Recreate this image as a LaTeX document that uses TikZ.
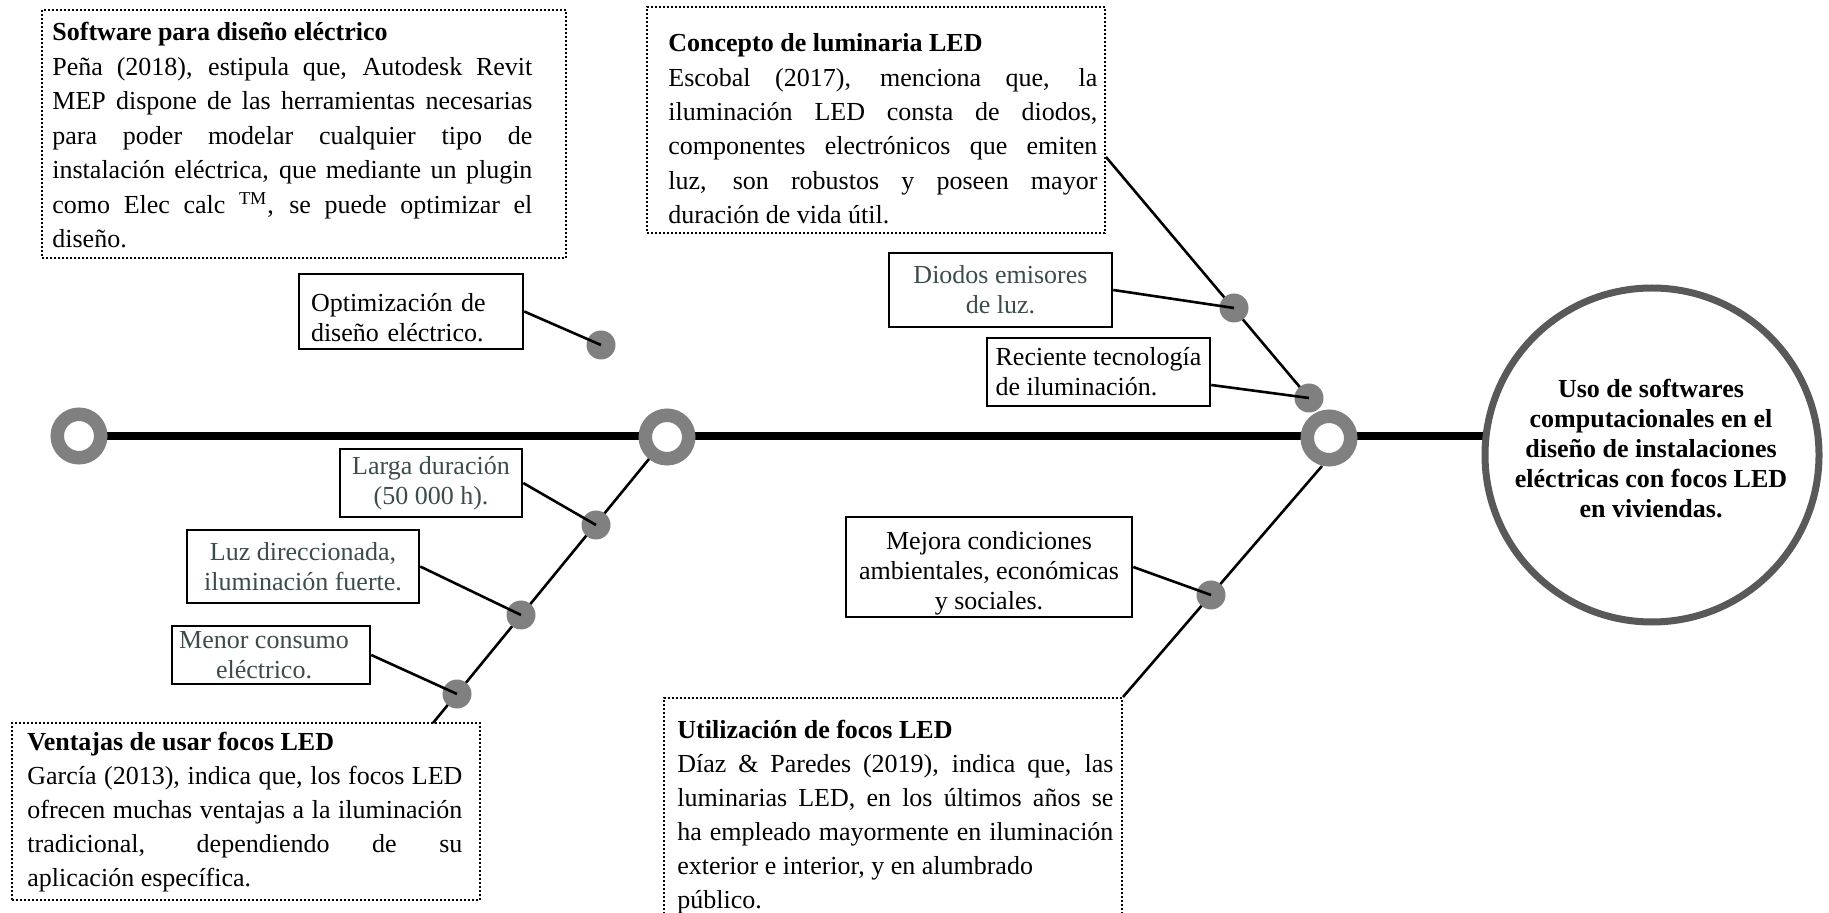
\documentclass[tikz,border=0pt]{standalone}
\usepackage{fontspec}
\setmainfont{Liberation Serif}
\usetikzlibrary{calc}
\pgfdeclarelayer{background}
\pgfsetlayers{background,main}
\definecolor{ringgray}{HTML}{808080}
\definecolor{bigborder}{HTML}{595959}
\definecolor{slate}{HTML}{3C4B4B}
\newcommand{\mybody}[1]{\fontsize{13pt}{#1}\selectfont\tolerance=10000\hyphenpenalty=10000\exhyphenpenalty=10000\relax}
\begin{document}
\begin{tikzpicture}[x=0.5pt,y=-0.5pt,
  dotbox/.style={draw, line width=1pt, dash pattern=on 1pt off 1pt, inner sep=0pt},
  solidbox/.style={draw, line width=1.25pt, inner sep=0pt, font=\fontsize{13pt}{15pt}\selectfont, align=center},
  ring/.style={circle, draw=ringgray, line width=6.75pt, fill=white, minimum size=21.75pt, inner sep=0pt},
  dot/.style={circle, fill=ringgray, minimum size=14.5pt, inner sep=0pt},
  bone/.style={line width=1.3pt},
  conn/.style={line width=1.3pt},
  spine/.style={line width=4.25pt},
  bodytext/.style={anchor=base west, inner sep=0pt}
]
\useasboundingbox (0,0) rectangle (1829,913);
\clip (0,0) rectangle (1829,913);

% dotted boxes
\node[dotbox, minimum width=262pt, minimum height=124pt] (sw) at (304,134) {};
\node[dotbox, minimum width=229pt, minimum height=113pt] (conc) at (876,120) {};
\node[dotbox, minimum width=234pt, minimum height=88.5pt] (vent) at (246,811.5) {};
\node[dotbox, minimum width=229pt, minimum height=121pt] (util) at (893,819) {};

\node[bodytext] (swt) at (52,41) {\parbox[t]{240pt}{\mybody{17.25pt}\textbf{Software para diseño eléctrico}\newline
Peña (2018), estipula que, Autodesk Revit\linebreak
MEP dispone de las herramientas necesarias\linebreak
para poder modelar cualquier tipo de\linebreak
instalación eléctrica, que mediante un plugin\linebreak
como Elec calc \textsuperscript{TM}, se puede optimizar el\linebreak
diseño.}};

\node[bodytext] (conct) at (668,52) {\parbox[t]{214.5pt}{\mybody{17.15pt}\textbf{Concepto de luminaria LED}\newline
Escobal (2017), menciona que, la\linebreak
iluminación LED consta de diodos,\linebreak
componentes electrónicos que emiten\linebreak
luz, son robustos y poseen mayor\linebreak
duración de vida útil.}};

\node[bodytext] (ventt) at (27,750) {\parbox[t]{217.5pt}{\mybody{17.1pt}\textbf{Ventajas de usar focos LED}\newline
García (2013), indica que, los focos LED\linebreak
ofrecen muchas ventajas a la iluminación\linebreak
tradicional, dependiendo de su\linebreak
aplicación específica.}};

\node[bodytext] (utilt) at (677,738) {\parbox[t]{218pt}{\mybody{17pt}\textbf{Utilización de focos LED}\newline
Díaz \& Paredes (2019), indica que, las\linebreak
luminarias LED, en los últimos años se\linebreak
ha empleado mayormente en iluminación\linebreak
exterior e interior, y en alumbrado\newline
público.}};

% small boxes
\node[solidbox, text width=100pt, align=left, inner xsep=6pt, minimum width=112pt, minimum height=37.5pt] (opt) at (411,311.5) {\rule{0pt}{15pt}Optimización de\\diseño eléctrico.};
\node[solidbox, text=slate, minimum width=91pt, minimum height=34pt] (larga) at (431,483) {Larga duración\\(50~000 h).};
\node[solidbox, text=slate, minimum width=116pt, minimum height=36.5pt] (luz) at (303,566.5) {Luz direccionada,\\iluminación fuerte.};
\node[solidbox, text=slate, minimum width=99pt, minimum height=29pt] (menor) at (271,655) {Menor consumo\hspace*{7pt}\\eléctrico.\hspace*{7pt}};
\node[solidbox, text=slate, minimum width=111.5pt, minimum height=37pt] (diodos) at (1000.5,290) {Diodos emisores\\de luz.};
\node[solidbox, align=left, minimum width=111.5pt, minimum height=34pt] (rec) at (1098.5,372) {Reciente tecnología\\de iluminación.};
\node[solidbox, minimum width=143pt, minimum height=50pt] (mej) at (989,567) {\rule{0pt}{15pt}Mejora condiciones\\ambientales, económicas\\y sociales.};

% rings and head
\node[ring] (m1) at (79,436) {};
\node[ring] (m2) at (667,437) {};
\node[ring] (m3) at (1329,438) {};
\node[circle, draw=bigborder, line width=3.5pt, fill=white, minimum size=167pt, inner sep=0pt] (big) at (1652,455) {};
\node[font=\bfseries\fontsize{13pt}{15pt}\selectfont, align=center, inner sep=0pt] (bigt) at (1651,449) {Uso de softwares\\computacionales en el\\diseño de instalaciones\\eléctricas con focos LED\\en viviendas.};

% dots
\node[dot] (dopt) at (601,345) {};
\node[dot] (dlar) at (596,525) {};
\node[dot] (dluz) at (521,615) {};
\node[dot] (dmen) at (457,694) {};
\node[dot] (ddio) at (1234,308) {};
\node[dot] (drec) at (1309,398) {};
\node[dot] (dmej) at (1211,595) {};

\coordinate (vtop) at (433,723);
\coordinate (cstart) at (1106,157);
\coordinate (r3b) at (1322,466);

\begin{pgfonlayer}{background}
\draw[spine] (m1.center) -- (m1.center -| big.center);
\draw[bone] (m2.center) -- (vtop);
\draw[bone] (cstart) -- (drec.center);
\draw[bone] (r3b) -- (util.north east);
\end{pgfonlayer}

% connectors
\draw[conn] (opt.east) -- (dopt.center);
\draw[conn] (larga.east) -- (dlar.center);
\draw[conn] (luz.east) -- (dluz.center);
\draw[conn] (menor.east) -- (dmen.center);
\draw[conn] (diodos.east) -- (ddio.center);
\draw[conn] ([yshift=-6.5pt]rec.east) -- (drec.center);
\draw[conn] (mej.east) -- (dmej.center);
\end{tikzpicture}
\end{document}
